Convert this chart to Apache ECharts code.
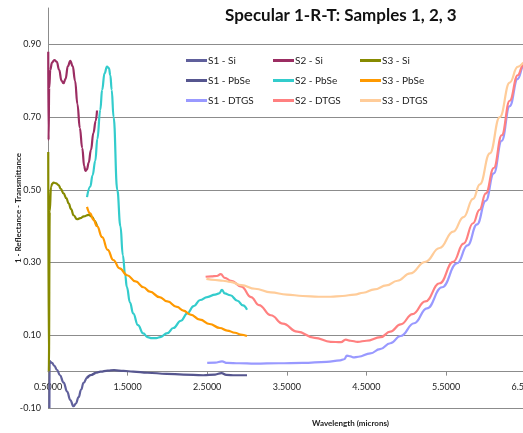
<!DOCTYPE html>
<html>
<head>
<meta charset="utf-8">
<title>Specular 1-R-T</title>
<script src="https://cdn.jsdelivr.net/npm/echarts@6/dist/echarts.min.js"></script>
<style>
  html, body { margin: 0; padding: 0; background: #ffffff; }
  #chart { width: 523px; height: 433px; }
</style>
</head>
<body>
<div id="chart"></div>
<script>
// 刻度
const xTicks = [0.5, 1.5, 2.5, 3.5, 4.5, 5.5, 6.5, 7.5];
const yTicks = [-0.1, 0.1, 0.3, 0.5, 0.7, 0.9];
const yMin = -0.1;
const yMax = 1.0;

// 数据：[波长 (µm), 1-R-T]
const s1Si = [[0.518, -0.10], [0.52, 0.03], [0.53, 0.027], [0.55, 0.024], [0.58, 0.016], [0.613, 0.005],
  [0.65, -0.01], [0.696, -0.03], [0.74, -0.055], [0.78, -0.078], [0.82, -0.095], [0.85, -0.088],
  [0.885, -0.07], [0.915, -0.05], [0.947, -0.031], [0.99, -0.017], [1.03, -0.01], [1.094, -0.004]];
const s1PbSe = [[0.99, -0.016], [1.03, -0.01], [1.1, -0.003], [1.16, 0.0], [1.25, 0.003], [1.33, 0.004],
  [1.45, 0.002], [1.57, 0.0], [1.75, -0.003], [1.99, -0.006], [2.2, -0.008], [2.45, -0.01],
  [2.6, -0.008], [2.68, -0.004], [2.74, -0.009], [2.85, -0.01], [3.0, -0.01]];
const s1Dtgs = [[2.5, 0.024], [2.6, 0.025], [2.686, 0.028], [2.75, 0.024], [2.9, 0.023], [3.1, 0.022],
  [3.4, 0.023], [3.7, 0.024], [4.0, 0.027], [4.17, 0.031], [4.22, 0.034], [4.256, 0.044], [4.3, 0.042],
  [4.335, 0.039], [4.4, 0.041], [4.55, 0.05], [4.67, 0.062], [4.8, 0.078], [4.93, 0.098], [5.1, 0.133],
  [5.26, 0.174], [5.45, 0.232], [5.64, 0.298], [5.77, 0.347], [5.89, 0.405], [6.0, 0.47], [6.1, 0.545],
  [6.2, 0.635], [6.3, 0.73], [6.4, 0.805], [6.47, 0.838], [6.55, 0.852], [6.62, 0.856]];

const s2Si = [[0.503, 0.88], [0.507, 0.637], [0.515, 0.78], [0.529, 0.83], [0.55, 0.85], [0.58, 0.857],
  [0.61, 0.852], [0.64, 0.83], [0.67, 0.80], [0.696, 0.793], [0.72, 0.805], [0.75, 0.84], [0.78, 0.855],
  [0.81, 0.84], [0.84, 0.80], [0.87, 0.735], [0.9, 0.67], [0.93, 0.615], [0.955, 0.565], [0.97, 0.552],
  [0.99, 0.556], [1.01, 0.574], [1.04, 0.61], [1.07, 0.656], [1.1, 0.69], [1.116, 0.718]];
const s2PbSe = [[0.99, 0.48], [1.031, 0.509], [1.06, 0.54], [1.094, 0.58], [1.12, 0.64], [1.157, 0.72],
  [1.18, 0.775], [1.21, 0.82], [1.241, 0.839], [1.265, 0.835], [1.283, 0.815], [1.30, 0.775],
  [1.324, 0.70], [1.37, 0.50], [1.41, 0.40], [1.44, 0.32], [1.47, 0.265], [1.49, 0.233], [1.53, 0.19],
  [1.57, 0.16], [1.63, 0.128], [1.697, 0.105], [1.75, 0.095], [1.806, 0.092], [1.86, 0.092],
  [1.91, 0.095], [2.0, 0.106], [2.074, 0.12], [2.17, 0.14], [2.25, 0.16], [2.33, 0.18], [2.41, 0.197],
  [2.5, 0.205], [2.6, 0.212], [2.65, 0.215], [2.686, 0.225], [2.72, 0.215], [2.79, 0.21],
  [2.88, 0.195], [2.95, 0.182], [3.0, 0.17]];
const s2Dtgs = [[2.48, 0.261], [2.55, 0.262], [2.62, 0.263], [2.67, 0.268], [2.72, 0.258], [2.8, 0.25],
  [2.93, 0.234], [3.05, 0.205], [3.15, 0.183], [3.3, 0.155], [3.45, 0.132], [3.63, 0.11], [3.85, 0.093],
  [4.05, 0.082], [4.18, 0.081], [4.24, 0.088], [4.3, 0.085], [4.39, 0.082], [4.5, 0.085], [4.68, 0.095],
  [4.8, 0.11], [4.93, 0.13], [5.08, 0.158], [5.24, 0.193], [5.42, 0.243], [5.59, 0.302], [5.72, 0.352],
  [5.84, 0.408], [5.92, 0.445], [6.0, 0.49], [6.1, 0.56], [6.2, 0.65], [6.3, 0.745], [6.4, 0.815],
  [6.47, 0.843], [6.55, 0.855], [6.62, 0.857]];

const s3Si = [[0.503, 0.604], [0.51, 0.0], [0.522, 0.44], [0.538, 0.509], [0.555, 0.517], [0.57, 0.52],
  [0.6, 0.518], [0.633, 0.513], [0.66, 0.503], [0.696, 0.49], [0.73, 0.477], [0.759, 0.463],
  [0.79, 0.447], [0.822, 0.43], [0.864, 0.419], [0.906, 0.422], [0.95, 0.427], [1.01, 0.431],
  [1.053, 0.426], [1.085, 0.415], [1.116, 0.399]];
const s3PbSe = [[0.99, 0.453], [1.03, 0.435], [1.07, 0.418], [1.116, 0.40], [1.18, 0.37], [1.25, 0.335],
  [1.32, 0.307], [1.4, 0.284], [1.496, 0.265], [1.6, 0.248], [1.7, 0.232], [1.78, 0.22], [1.9, 0.205],
  [2.0, 0.193], [2.12, 0.178], [2.2, 0.168], [2.29, 0.157], [2.41, 0.143], [2.53, 0.131], [2.66, 0.12],
  [2.75, 0.113], [2.85, 0.107], [2.92, 0.102], [3.0, 0.098]];
const s3Dtgs = [[2.49, 0.255], [2.6, 0.252], [2.7, 0.25], [2.79, 0.247], [2.93, 0.238], [3.1, 0.228],
  [3.3, 0.218], [3.5, 0.212], [3.7, 0.208], [3.9, 0.206], [4.05, 0.206], [4.2, 0.208], [4.35, 0.212],
  [4.46, 0.217], [4.6, 0.226], [4.75, 0.237], [4.89, 0.25], [5.05, 0.27], [5.24, 0.302], [5.42, 0.34],
  [5.59, 0.385], [5.72, 0.425], [5.84, 0.475], [5.925, 0.515], [6.05, 0.6], [6.175, 0.70], [6.3, 0.795],
  [6.4, 0.838], [6.5, 0.852], [6.6, 0.856]];

// 系列名称、数据、颜色（按 Excel 的顺序）
const seriesList = [
  { name: 'S1 - Si', data: s1Si, color: '#60609c' },
  { name: 'S2 - Si', data: s2Si, color: '#9b2d62' },
  { name: 'S3 - Si', data: s3Si, color: '#868a00' },
  { name: 'S1 - PbSe', data: s1PbSe, color: '#56568f' },
  { name: 'S2 - PbSe', data: s2PbSe, color: '#33cccc' },
  { name: 'S3 - PbSe', data: s3PbSe, color: '#ff9900' },
  { name: 'S1 - DTGS', data: s1Dtgs, color: '#9999ff' },
  { name: 'S2 - DTGS', data: s2Dtgs, color: '#ff8080' },
  { name: 'S3 - DTGS', data: s3Dtgs, color: '#ffcc99' }
];
const legendColumns = [
  ['S1 - Si', 'S1 - PbSe', 'S1 - DTGS'],
  ['S2 - Si', 'S2 - PbSe', 'S2 - DTGS'],
  ['S3 - Si', 'S3 - PbSe', 'S3 - DTGS']
];

const FONT = 'Lato, "Liberation Sans", sans-serif';
const GRID_COLOR = '#8c8c8c';

const GRID_TOP = 8;
const GRID_HEIGHT = 400;
// X 轴在 y = 0 处（v6 中 onZero 不移动标签，所以用 offset）
const xAxisOffset = -GRID_HEIGHT * (0 - yMin) / (yMax - yMin);

const myChart = echarts.init(document.getElementById('chart'), null, { renderer: 'canvas' });

const legendLeft = [186, 273, 360];
const legends = legendColumns.map((col, i) => ({
  data: col,
  orient: 'vertical',
  left: legendLeft[i],
  top: 55,
  padding: 0,
  itemGap: 9,
  itemWidth: 21,
  itemHeight: 3,
  icon: 'rect',
  selectedMode: false,
  textStyle: { fontFamily: FONT, fontSize: 10, color: '#222', lineHeight: 11, padding: [0, 0, 0, -4] }
}));

const option = {
  animation: false,
  backgroundColor: '#ffffff',
  title: {
    text: 'Specular 1-R-T: Samples 1, 2, 3',
    left: 225,
    top: 7,
    padding: 0,
    textStyle: { fontFamily: FONT, fontSize: 17, fontWeight: 'bold', color: '#111' }
  },
  legend: legends,
  // 绘图区向右超出画布（原图被裁切）
  grid: { left: 48, top: GRID_TOP, height: GRID_HEIGHT, right: -130, containLabel: false, outerBoundsMode: 'none' },
  xAxis: {
    type: 'value',
    min: 0.5,
    max: 8.1,
    offset: xAxisOffset,
    name: 'Wavelength (microns)',
    nameLocation: 'middle',
    nameGap: 48,
    nameMoveOverlap: false,
    nameTextStyle: { fontFamily: FONT, fontSize: 8, fontWeight: 'bold', color: '#222' },
    axisLine: { onZero: false, lineStyle: { color: GRID_COLOR, width: 1 } },
    axisTick: { show: true, length: 4, customValues: xTicks, lineStyle: { color: GRID_COLOR } },
    axisLabel: {
      customValues: xTicks,
      margin: 11,
      fontFamily: FONT, fontSize: 9, color: '#222',
      formatter: v => v.toFixed(4)
    },
    splitLine: { show: false }
  },
  yAxis: {
    type: 'value',
    min: yMin,
    max: yMax,
    name: '1 - Reflectance - Transmittance',
    nameLocation: 'middle',
    nameGap: 26,
    nameMoveOverlap: false,
    nameTextStyle: { fontFamily: FONT, fontSize: 8, fontWeight: 'bold', color: '#222' },
    axisLine: { show: true, onZero: false, lineStyle: { color: GRID_COLOR, width: 1 } },
    axisTick: { show: false, customValues: yTicks },
    axisLabel: {
      customValues: yTicks,
      margin: 7,
      fontFamily: FONT, fontSize: 9, color: '#222',
      formatter: v => v.toFixed(2)
    },
    splitLine: { show: true, lineStyle: { color: GRID_COLOR, width: 1 } }
  },
  series: seriesList.map(s => ({
    name: s.name,
    type: 'line',
    data: s.data,
    color: s.color,
    showSymbol: false,
    symbol: 'none',
    smooth: 0.45,
    smoothMonotone: 'x',
    lineStyle: { width: 2.2, color: s.color },
    silent: true
  }))
};

myChart.setOption(option);
window.addEventListener('resize', myChart.resize);
</script>
</body>
</html>
